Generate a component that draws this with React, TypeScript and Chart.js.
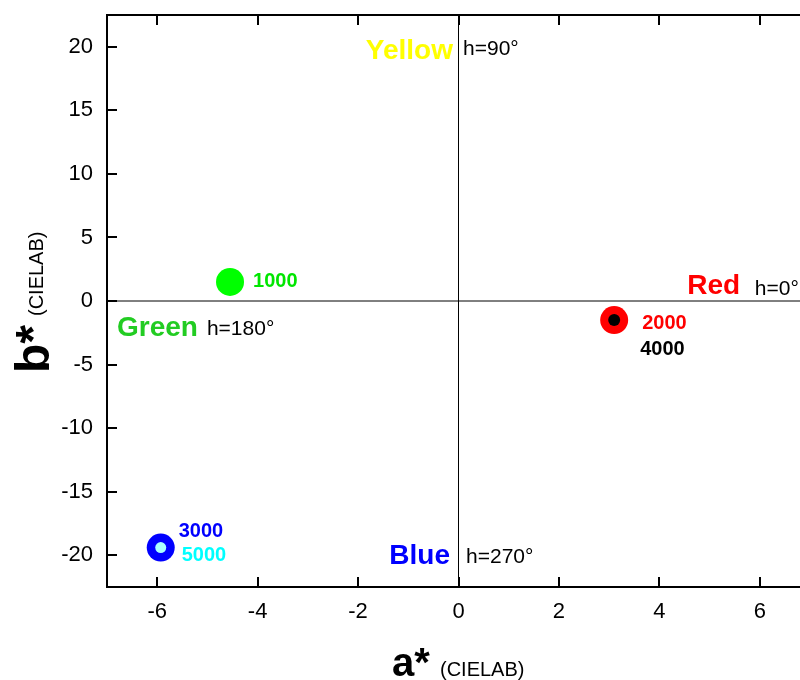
import React, { useEffect, useRef } from 'react';
import { Chart, registerables } from 'chart.js';

Chart.register(...registerables);

const FONT = '"Liberation Sans", Arial, Helvetica, sans-serif';

// ---- data ----
const seriesLabels = ['1000', '2000', '3000', '4000', '5000'];
const aStar = [-4.55, 3.1, -5.93, 3.1, -5.93];
const bStar = [1.5, -1.5, -19.4, -1.5, -19.4];
const xTickValues = [-6, -4, -2, 0, 2, 4, 6];
const yTickValues = [-20, -15, -10, -5, 0, 5, 10, 15, 20];
const hueNames = ['Yellow', 'Red', 'Green', 'Blue'];
const hueAngles = ['h=90°', 'h=0°', 'h=180°', 'h=270°'];

// ---- styles ----
const pointFill = ['#00ff00', '#ff0000', '#0000ff', '#000000', '#aaffff'];
const pointRadius = [14, 14, 14, 6, 5.5];
const pointOrder = [1, 1, 1, 0, 0];
const labelColor = ['#00e600', '#ff0000', '#0000ff', '#000000', '#00ffff'];
const labelOffset = [[23, 0], [28, 3], [18, -16], [26, 29], [21, 8]];

const hueColor = ['#ffff00', '#ff0000', '#22cc22', '#0000ff'];
const hueNamePos = [
  { x: -0.11, y: 19.68, align: 'right' },
  { x: 5.61, y: 1.16, align: 'right' },
  { x: -6.8, y: -2.15, align: 'left' },
  { x: -0.17, y: -20.1, align: 'right' },
];
const hueAnglePos = [
  { x: 0.09, y: 19.78 },
  { x: 5.9, y: 0.92 },
  { x: -5.01, y: -2.22 },
  { x: 0.15, y: -20.17 },
];

const framePlugin = {
  id: 'frame',
  beforeDatasetsDraw(chart: any) {
    const { ctx, chartArea: ca, scales } = chart;
    const x0 = scales.x.getPixelForValue(0);
    const y0 = scales.y.getPixelForValue(0);
    ctx.save();
    ctx.strokeStyle = '#000';
    ctx.lineWidth = 1;
    ctx.beginPath();
    ctx.moveTo(x0, ca.top);
    ctx.lineTo(x0, ca.bottom);
    ctx.moveTo(ca.left, y0);
    ctx.lineTo(ca.right, y0);
    ctx.stroke();
    ctx.restore();
  },
  afterDatasetsDraw(chart: any) {
    const { ctx, scales } = chart;
    ctx.save();
    // point labels
    ctx.font = `bold 20px ${FONT}`;
    ctx.textBaseline = 'middle';
    ctx.textAlign = 'left';
    chart.data.datasets.forEach((ds: any, i: number) => {
      const el = chart.getDatasetMeta(i).data[0];
      if (!el) return;
      ctx.fillStyle = labelColor[i];
      ctx.fillText(seriesLabels[i], el.x + labelOffset[i][0], el.y + labelOffset[i][1]);
    });
    // hue names
    ctx.font = `bold 28px ${FONT}`;
    hueNames.forEach((n, i) => {
      const p = hueNamePos[i];
      ctx.fillStyle = hueColor[i];
      ctx.textAlign = p.align as CanvasTextAlign;
      ctx.fillText(n, scales.x.getPixelForValue(p.x), scales.y.getPixelForValue(p.y));
    });
    ctx.font = `21px ${FONT}`;
    ctx.fillStyle = '#000';
    ctx.textAlign = 'left';
    hueAngles.forEach((n, i) => {
      const p = hueAnglePos[i];
      ctx.fillText(n, scales.x.getPixelForValue(p.x), scales.y.getPixelForValue(p.y));
    });
    ctx.restore();
  },
  afterDraw(chart: any) {
    const { ctx, chartArea: ca, scales } = chart;
    ctx.save();
    ctx.strokeStyle = '#000';
    ctx.lineWidth = 2;
    ctx.beginPath();
    ctx.moveTo(ca.left, ca.top);
    ctx.lineTo(ca.right, ca.top);
    ctx.moveTo(ca.left, ca.top - 1);
    ctx.lineTo(ca.left, ca.bottom + 1);
    ctx.moveTo(ca.left, ca.bottom);
    ctx.lineTo(ca.right, ca.bottom);
    ctx.moveTo(ca.right, ca.top);
    ctx.lineTo(ca.right, ca.bottom);
    const tl = 10;
    xTickValues.forEach((v) => {
      const px = Math.round(scales.x.getPixelForValue(v));
      ctx.moveTo(px, ca.bottom);
      ctx.lineTo(px, ca.bottom - tl);
      ctx.moveTo(px, ca.top);
      ctx.lineTo(px, ca.top + tl);
    });
    yTickValues.forEach((v) => {
      const py = Math.round(scales.y.getPixelForValue(v));
      ctx.moveTo(ca.left, py);
      ctx.lineTo(ca.left + tl, py);
      ctx.moveTo(ca.right, py);
      ctx.lineTo(ca.right - tl, py);
    });
    ctx.stroke();

    // axis titles
    ctx.fillStyle = '#000';
    ctx.textBaseline = 'alphabetic';
    ctx.textAlign = 'left';
    ctx.font = `bold 40px ${FONT}`;
    ctx.fillText('a*', 392, 676);
    ctx.font = `20px ${FONT}`;
    ctx.fillText('(CIELAB)', 440, 676);

    ctx.translate(49, 0);
    ctx.rotate(-Math.PI / 2);
    // rotated coords: x' = -y, y' = x - 49
    ctx.font = `bold 48px ${FONT}`;
    ctx.fillText('b*', -373, 0);
    ctx.font = `20px ${FONT}`;
    ctx.fillText('(CIELAB)', -316, -6);
    ctx.restore();
  },
};

const zeroPad = (s: any) => {
  s.paddingTop = 0;
  s.paddingBottom = 0;
  s.paddingLeft = 0;
  s.paddingRight = 0;
};

export default function App() {
  const ref = useRef<HTMLCanvasElement>(null);
  useEffect(() => {
    const canvas = ref.current;
    if (!canvas) return;
    const chart = new Chart(canvas, {
      type: 'scatter',
      data: {
        datasets: seriesLabels.map((l, i) => ({
          label: l,
          data: [{ x: aStar[i], y: bStar[i] }],
          pointRadius: pointRadius[i],
          pointHoverRadius: pointRadius[i],
          pointBackgroundColor: pointFill[i],
          pointBorderWidth: 0,
          borderWidth: 0,
          order: pointOrder[i],
        })),
      },
      options: {
        responsive: false,
        animation: false,
        devicePixelRatio: 1,
        events: [],
        layout: { autoPadding: false, padding: { top: 15, left: 0, right: 0, bottom: 0 } },
        plugins: { legend: { display: false }, tooltip: { enabled: false } },
        scales: {
          x: {
            type: 'linear',
            min: -7,
            max: 7,
            afterBuildTicks: (s: any) => {
              s.ticks = xTickValues.map((v) => ({ value: v }));
            },
            afterFit: (s: any) => {
              s.height = 93;
              zeroPad(s);
            },
            grid: { display: false, drawTicks: false },
            border: { display: false },
            ticks: {
              font: { family: FONT, size: 22 },
              color: '#000',
              padding: 12,
              maxRotation: 0,
              autoSkip: false,
            },
          },
          y: {
            type: 'linear',
            min: -22.5,
            max: 22.5,
            afterBuildTicks: (s: any) => {
              s.ticks = yTickValues.map((v) => ({ value: v }));
            },
            afterFit: (s: any) => {
              s.width = 107;
              zeroPad(s);
            },
            grid: { display: false, drawTicks: false },
            border: { display: false },
            ticks: {
              font: { family: FONT, size: 22 },
              color: '#000',
              padding: 14,
              autoSkip: false,
            },
          },
        },
      } as any,
      plugins: [framePlugin],
    });
    return () => chart.destroy();
  }, []);
  return (
    <div
      style={{
        position: 'fixed',
        left: 0,
        top: 0,
        width: 800,
        height: 680,
        overflow: 'hidden',
        background: '#fff',
      }}
    >
      <canvas ref={ref} width={810} height={680} style={{ display: 'block', width: 810, height: 680 }} />
    </div>
  );
}
